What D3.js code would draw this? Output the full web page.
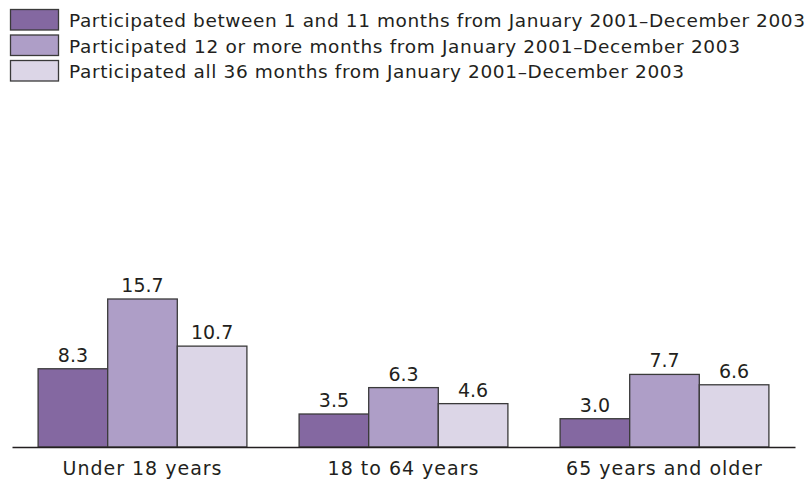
<!DOCTYPE html>
<html>
<head>
<meta charset="utf-8">
<script src="https://cdn.jsdelivr.net/npm/d3@7"></script>
<style>
  html, body { margin: 0; padding: 0; background: #fff; }
  svg { display: block; }
  text { font-family: "DejaVu Sans", sans-serif; fill: #231f20; }
</style>
</head>
<body>
<svg id="chart" width="810" height="482"></svg>
<script>
const categories = ["Under 18 years", "18 to 64 years", "65 years and older"];
const seriesNames = [
  "Participated between 1 and 11 months from January 2001\u2013December 2003",
  "Participated 12 or more months from January 2001\u2013December 2003",
  "Participated all 36 months from January 2001\u2013December 2003"
];
const series1 = [8.3, 3.5, 3.0];
const series2 = [15.7, 6.3, 7.7];
const series3 = [10.7, 4.6, 6.6];
const seriesColors = ["#8468a1", "#ae9ec7", "#dcd6e7"];

const allSeries = [series1, series2, series3];
const svg = d3.select("#chart");
const FONT = "\"DejaVu Sans\", sans-serif";

const x0 = d3.scaleBand().domain(categories).range([12, 795]).paddingInner(0.2).paddingOuter(0.1);
const x1 = d3.scaleBand().domain(d3.range(allSeries.length)).range([0, x0.bandwidth()]);
const y = d3.scaleLinear().domain([0, 15.7]).range([447, 299]);

// legend
const legend = svg.append("g");
const legendTops = [9.5, 35, 60.5];
const legendTextWidths = [736, 671, 615];
seriesNames.forEach((name, i) => {
  legend.append("rect")
    .attr("x", 10.5).attr("y", legendTops[i])
    .attr("width", 48).attr("height", 20.5)
    .attr("fill", seriesColors[i])
    .attr("stroke", "#3a3a3a").attr("stroke-width", 1.3);
  legend.append("text")
    .attr("x", 69).attr("y", legendTops[i] + 17.5)
    .attr("font-size", 18.5)
    .attr("textLength", legendTextWidths[i])
    .attr("lengthAdjust", "spacing")
    .text(name);
});

// bars
const groups = svg.append("g").selectAll("g")
  .data(categories)
  .join("g")
  .attr("transform", d => `translate(${x0(d)},0)`);

groups.each(function(cat, ci) {
  const g = d3.select(this);
  allSeries.forEach((vals, si) => {
    const v = vals[ci];
    g.append("rect")
      .attr("x", x1(si))
      .attr("y", y(v))
      .attr("width", x1.bandwidth())
      .attr("height", y(0) - y(v))
      .attr("fill", seriesColors[si])
      .attr("stroke", "#3a3a3a")
      .attr("stroke-width", 1.3);
    g.append("text")
      .attr("x", x1(si) + x1.bandwidth() / 2)
      .attr("y", y(v) - 7)
      .attr("text-anchor", "middle")
      .attr("font-size", 19)
      .text(v.toFixed(1));
  });
});

// baseline axis
const xAxis = d3.axisBottom(x0).tickSize(0).tickPadding(15);
const axisG = svg.append("g").attr("transform", `translate(0,${y(0)})`).call(xAxis);
axisG.select(".domain").attr("stroke", "#231f20").attr("stroke-width", 1.3);
axisG.selectAll(".tick text")
  .attr("font-size", 19)
  .attr("font-family", FONT)
  .attr("letter-spacing", "1px")
  .attr("fill", "#231f20")
  .attr("dy", "0.71em");
</script>
</body>
</html>
